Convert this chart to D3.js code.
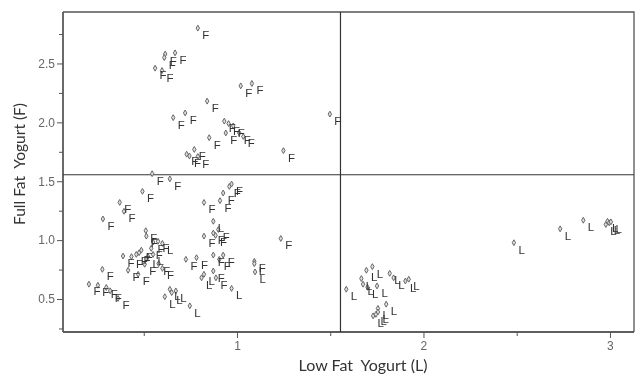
<!DOCTYPE html>
<html><head><meta charset="utf-8">
<script src="https://cdn.jsdelivr.net/npm/d3@7"></script>
<style>
html,body{margin:0;padding:0;background:#fff;}
svg{display:block;}
text{-webkit-font-smoothing:antialiased;}
</style></head>
<body>
<svg id="chart" width="635" height="376"></svg>
<script>
// ---- data ----
const lowFatScores = [
  0.79,0.615,0.61,0.668,0.561,0.598,1.02,1.08,0.84,0.658,0.722,0.932,0.98,0.94,1.012,1.034,0.851,1.498,1.249,0.771,0.73,0.745,0.79,0.955,
  0.545,0.64,0.493,0.371,0.394,0.281,0.823,0.909,0.926,0.959,0.971,0.873,0.873,0.90,0.823,0.885,0.511,0.514,0.55,0.577,0.60,0.54,0.487,0.475,0.46,0.434,0.523,0.55,0.505,0.389,0.416,0.278,0.47,0.206,0.254,0.299,0.362,0.32,0.726,0.783,0.873,0.926,0.905,0.873,0.823,0.81,0.887,0.971,0.64,0.672,0.613,0.747,1.093,1.093,1.097,1.235,0.65,0.58,0.60,
  1.586,1.667,1.676,1.694,1.726,1.751,1.70,1.819,1.84,1.903,1.921,1.756,1.756,1.73,1.80,1.745,2.485,2.733,2.857,2.978,2.987,2.996,3.005
];
const fullFatScores = [
  2.80,2.58,2.55,2.59,2.46,2.44,2.31,2.33,2.18,2.04,2.08,2.01,1.97,1.91,1.91,1.88,1.87,2.07,1.76,1.77,1.73,1.715,1.71,1.99,
  1.564,1.52,1.414,1.32,1.245,1.18,1.32,1.335,1.40,1.456,1.476,1.16,1.06,1.09,1.034,1.04,1.08,1.034,0.983,0.99,0.972,0.93,0.915,0.893,0.879,0.86,0.86,0.879,0.795,0.865,0.744,0.752,0.71,0.626,0.617,0.598,0.505,0.57,0.837,0.851,0.873,0.873,0.837,0.738,0.71,0.68,0.68,0.59,0.583,0.569,0.52,0.442,0.82,0.80,0.73,1.014,0.555,0.80,0.76,
  0.583,0.674,0.626,0.744,0.775,0.611,0.60,0.718,0.68,0.653,0.668,0.42,0.39,0.357,0.456,0.37,0.978,1.096,1.169,1.133,1.16,1.147,1.155
];
const preferenceLabels = [
  "F","F","F","F","F","F","F","F","F","F","F","F","F","F","F","F","F","F","F","F","F","F","F","F",
  "F","F","F","F","F","F","F","F","F","F","F","L","F","F","F","F","F","F","F","F","L","F","F","F","F","F","L","L","F","F","F","F","F","F","F","F","F","F","F","F","F","F","F","F","L","L","F","L","L","L","L","L","F","L","L","F","L","F","F",
  "L","L","L","L","L","L","L","L","L","L","L","L","L","L","L","L","L","L","L","L","L","L","L"
];
const xMajorTicks = [1, 2, 3];
const xMinorTicks = [0.5, 1.5, 2.5];
const yMajorTicks = [0.5, 1.0, 1.5, 2.0, 2.5];
const yMinorTicks = [0.25, 0.75, 1.25, 1.75, 2.25, 2.75];
const thresholdX = 1.555;
const thresholdY = 1.555;
const xTitle = "Low Fat  Yogurt (L)";
const yTitle = "Full Fat  Yogurt (F)";

// ---- layout ----
const svg = d3.select("#chart");
const pLeft = 63, pRight = 634, pTop = 12, pBottom = 332;
const x = d3.scaleLinear().domain([0.067, 3.129]).range([pLeft, pRight]);
const y = d3.scaleLinear().domain([0.22, 2.937]).range([pBottom, pTop]);

const axisColor = "#555";
const tickFont = "'Liberation Sans', Arial, sans-serif";

// frame (top & right)
svg.append("path")
  .attr("d", `M${pLeft},${pTop}H${pRight}V${pBottom}`)
  .attr("fill", "none").attr("stroke", axisColor).attr("stroke-width", 1.3);

// x axis
const gx = svg.append("g").attr("transform", `translate(0,${pBottom})`).style("opacity", 0.999)
  .call(d3.axisBottom(x).tickValues(xMajorTicks).tickFormat(d3.format("d")).tickSize(6).tickPadding(3));
gx.append("g").call(d3.axisBottom(x).tickValues(xMinorTicks).tickFormat("").tickSize(4));
gx.selectAll(".domain").attr("stroke", axisColor).attr("stroke-width", 1.3)
  .attr("d", `M${pLeft},0H${pRight}`);
gx.selectAll(".tick line").attr("stroke", axisColor);
gx.selectAll(".tick text").attr("fill", "#666").style("font-family", tickFont).style("font-size", "12px");

// y axis
const gy = svg.append("g").attr("transform", `translate(${pLeft},0)`).style("opacity", 0.999)
  .call(d3.axisLeft(y).tickValues(yMajorTicks).tickFormat(d3.format(".1f")).tickSize(6).tickPadding(2));
gy.append("g").call(d3.axisLeft(y).tickValues(yMinorTicks).tickFormat("").tickSize(4));
gy.selectAll(".domain").attr("stroke", axisColor).attr("stroke-width", 1.3)
  .attr("d", `M0,${pBottom}V${pTop}`);
gy.selectAll(".tick line").attr("stroke", axisColor);
gy.selectAll(".tick text").attr("fill", "#666").style("font-family", tickFont).style("font-size", "12px");

// threshold lines
svg.append("line").attr("x1", x(thresholdX)).attr("x2", x(thresholdX))
  .attr("y1", pTop).attr("y2", pBottom).attr("stroke", "#333").attr("stroke-width", 1.2);
svg.append("line").attr("x1", pLeft).attr("x2", pRight)
  .attr("y1", y(thresholdY)).attr("y2", y(thresholdY)).attr("stroke", "#333").attr("stroke-width", 1.2);

// points
const pts = lowFatScores.map((v, i) => ({lx: v, fy: fullFatScores[i], lab: preferenceLabels[i]}));
const diamond = d3.symbol().type(d3.symbolDiamond).size(10);
const gp = svg.append("g").style("opacity", 0.999);
gp.selectAll("path.pt").data(pts).join("path").attr("class", "pt")
  .attr("d", diamond)
  .attr("transform", d => `translate(${x(d.lx)},${y(d.fy)})`)
  .attr("fill", "#ddd").attr("stroke", "#666").attr("stroke-width", 1);
gp.selectAll("text.lab").data(pts).join("text").attr("class", "lab")
  .attr("x", d => x(d.lx) + 4.5).attr("y", d => y(d.fy) + 11)
  .text(d => d.lab)
  .attr("fill", "#333")
  .style("font-family", tickFont).style("font-size", "11.5px");

// titles
const titleFont = "Lato, 'Open Sans', sans-serif";
const gt = svg.append("g").style("opacity", 0.999);
gt.append("text").attr("x", 363).attr("y", 371).attr("text-anchor", "middle")
  .style("white-space", "pre").attr("xml:space", "preserve")
  .style("font-family", titleFont).style("font-size", "16px").attr("fill", "#333")
  .text(xTitle);
gt.append("text").attr("transform", "translate(25,164) rotate(-90)").attr("text-anchor", "middle")
  .style("white-space", "pre").attr("xml:space", "preserve")
  .style("font-family", titleFont).style("font-size", "15.5px").attr("fill", "#333")
  .text(yTitle);
</script>
</body></html>
